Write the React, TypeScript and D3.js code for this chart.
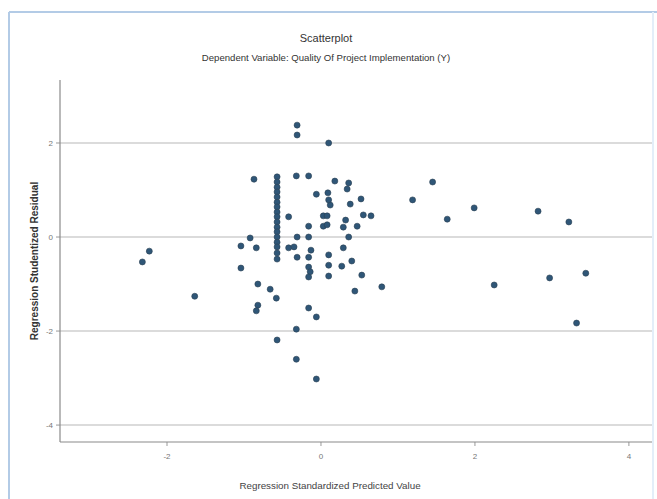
import React from "react";
import * as d3 from "d3";

const xValues: number[] = [
  -2.32, -2.23, -1.64, -1.04, -0.92, -0.84, -1.04, -0.87, -0.82, -0.66, -0.58, -0.82, -0.84,
  -0.57, -0.57, -0.57, -0.57, -0.57, -0.57, -0.57, -0.57, -0.57, -0.57, -0.57, -0.57, -0.57, -0.57, -0.57, -0.57, -0.57,
  -0.57, -0.42, -0.42, -0.35, -0.31, -0.31, -0.32, -0.31, -0.31, -0.32, -0.32,
  -0.16, -0.06, -0.16, -0.16, -0.13, -0.16, -0.16, -0.14, -0.16, -0.16, -0.06, -0.06,
  0.10, 0.09, 0.12, 0.10, 0.18, 0.36, 0.34, 0.52, 0.38, 0.03, 0.08, 0.55, 0.65, 0.03, 0.08,
  0.29, 0.32, 0.47, 0.36, 0.29, 0.10, 0.10, 0.10, 0.27, 0.40, 0.53, 0.44, 0.79,
  1.19, 1.45, 1.64, 1.99, 2.82, 3.22, 2.25, 2.97, 3.44, 3.32,
];
const yValues: number[] = [
  -0.53, -0.30, -1.26, -0.19, -0.02, -0.23, -0.66, 1.23, -1.00, -1.11, -1.30, -1.45, -1.57,
  1.28, 1.17, 1.06, 0.96, 0.85, 0.74, 0.64, 0.53, 0.43, 0.32, 0.21, 0.11, 0, -0.11, -0.21, -0.34, -0.47,
  -2.19, 0.43, -0.23, -0.21, 0, -0.43, 1.30, 2.38, 2.17, -1.96, -2.60,
  1.30, 0.91, 0.23, 0, -0.28, -0.43, -0.64, -0.74, -0.85, -1.51, -1.70, -3.02,
  2.00, 0.94, 0.68, 0.79, 1.19, 1.15, 1.02, 0.81, 0.70, 0.45, 0.45, 0.47, 0.45, 0.23, 0.26,
  0.21, 0.36, 0.23, 0, -0.23, -0.38, -0.60, -0.83, -0.62, -0.51, -0.81, -1.15, -1.06,
  0.79, 1.17, 0.38, 0.62, 0.55, 0.32, -1.02, -0.87, -0.77, -1.83,
];
const xTicks: number[] = [-2, 0, 2, 4];
const yTicks: number[] = [2, 0, -2, -4];
const title = "Scatterplot";
const subtitle = "Dependent Variable: Quality Of Project Implementation (Y)";
const xLabel = "Regression Standardized Predicted Value";
const yLabel = "Regression Studentized Residual";

const W = 657;
const H = 499;
const plotLeft = 60;
const plotRight = 652;
const plotTop = 80;
const plotBottom = 442;

export default function App() {
  const x = d3.scaleLinear().domain([-3.39, 4.3]).range([plotLeft, plotRight]);
  const y = d3.scaleLinear().domain([-4.36, 3.34]).range([plotBottom, plotTop]);
  const font = "'Liberation Sans', Arial, sans-serif";
  const points = xValues.map((v, i) => ({ x: v, y: yValues[i] }));
  return (
    <svg width={W} height={H} style={{ position: "absolute", left: 0, top: 0 }}>
      <rect x={0} y={0} width={W} height={H} fill="#fff" />
      <line x1={9} y1={12} x2={9} y2={H} stroke="#b3cbe6" strokeWidth={2} />
      <line x1={9} y1={12} x2={W} y2={12} stroke="#b3cbe6" strokeWidth={2} />
      <line x1={653} y1={12} x2={653} y2={H} stroke="#e3eef9" strokeWidth={2} />
      <text x={326} y={42} textAnchor="middle" fontFamily={font} fontSize={11} fill="#333">{title}</text>
      <text x={326} y={61} textAnchor="middle" fontFamily={font} fontSize={9.6} fill="#333">{subtitle}</text>
      {yTicks.map((t) => (
        <g key={"y" + t}>
          <line x1={plotLeft} x2={plotRight} y1={y(t)} y2={y(t)} stroke="#cfcfcf" strokeWidth={1.5} />
          <line x1={plotLeft - 4} x2={plotLeft} y1={y(t)} y2={y(t)} stroke="#999" strokeWidth={1} />
          <text x={plotLeft - 7} y={y(t) + 3} textAnchor="end" fontFamily={font} fontSize={8} fill="#777">{t}</text>
        </g>
      ))}
      {xTicks.map((t) => (
        <g key={"x" + t}>
          <line x1={x(t)} x2={x(t)} y1={plotBottom} y2={plotBottom + 4} stroke="#999" strokeWidth={1} />
          <text x={x(t)} y={plotBottom + 17} textAnchor="middle" fontFamily={font} fontSize={8} fill="#777">{t}</text>
        </g>
      ))}
      <line x1={plotLeft} x2={plotLeft} y1={plotTop} y2={plotBottom} stroke="#8a8a8a" strokeWidth={1.2} />
      <line x1={plotLeft} x2={plotRight} y1={plotBottom} y2={plotBottom} stroke="#8a8a8a" strokeWidth={1.2} />
      {points.map((p, i) => (
        <circle key={i} cx={x(p.x)} cy={y(p.y)} r={3} fill="#2f5677" stroke="#2a3f52" strokeWidth={0.6} />
      ))}
      <text x={330} y={489} textAnchor="middle" fontFamily={font} fontSize={9.8} fill="#444">{xLabel}</text>
      <text transform={`translate(38, ${(plotTop + plotBottom) / 2}) rotate(-90)`} textAnchor="middle" fontFamily={font} fontSize={10} fontWeight="bold" fill="#333">{yLabel}</text>
    </svg>
  );
}
